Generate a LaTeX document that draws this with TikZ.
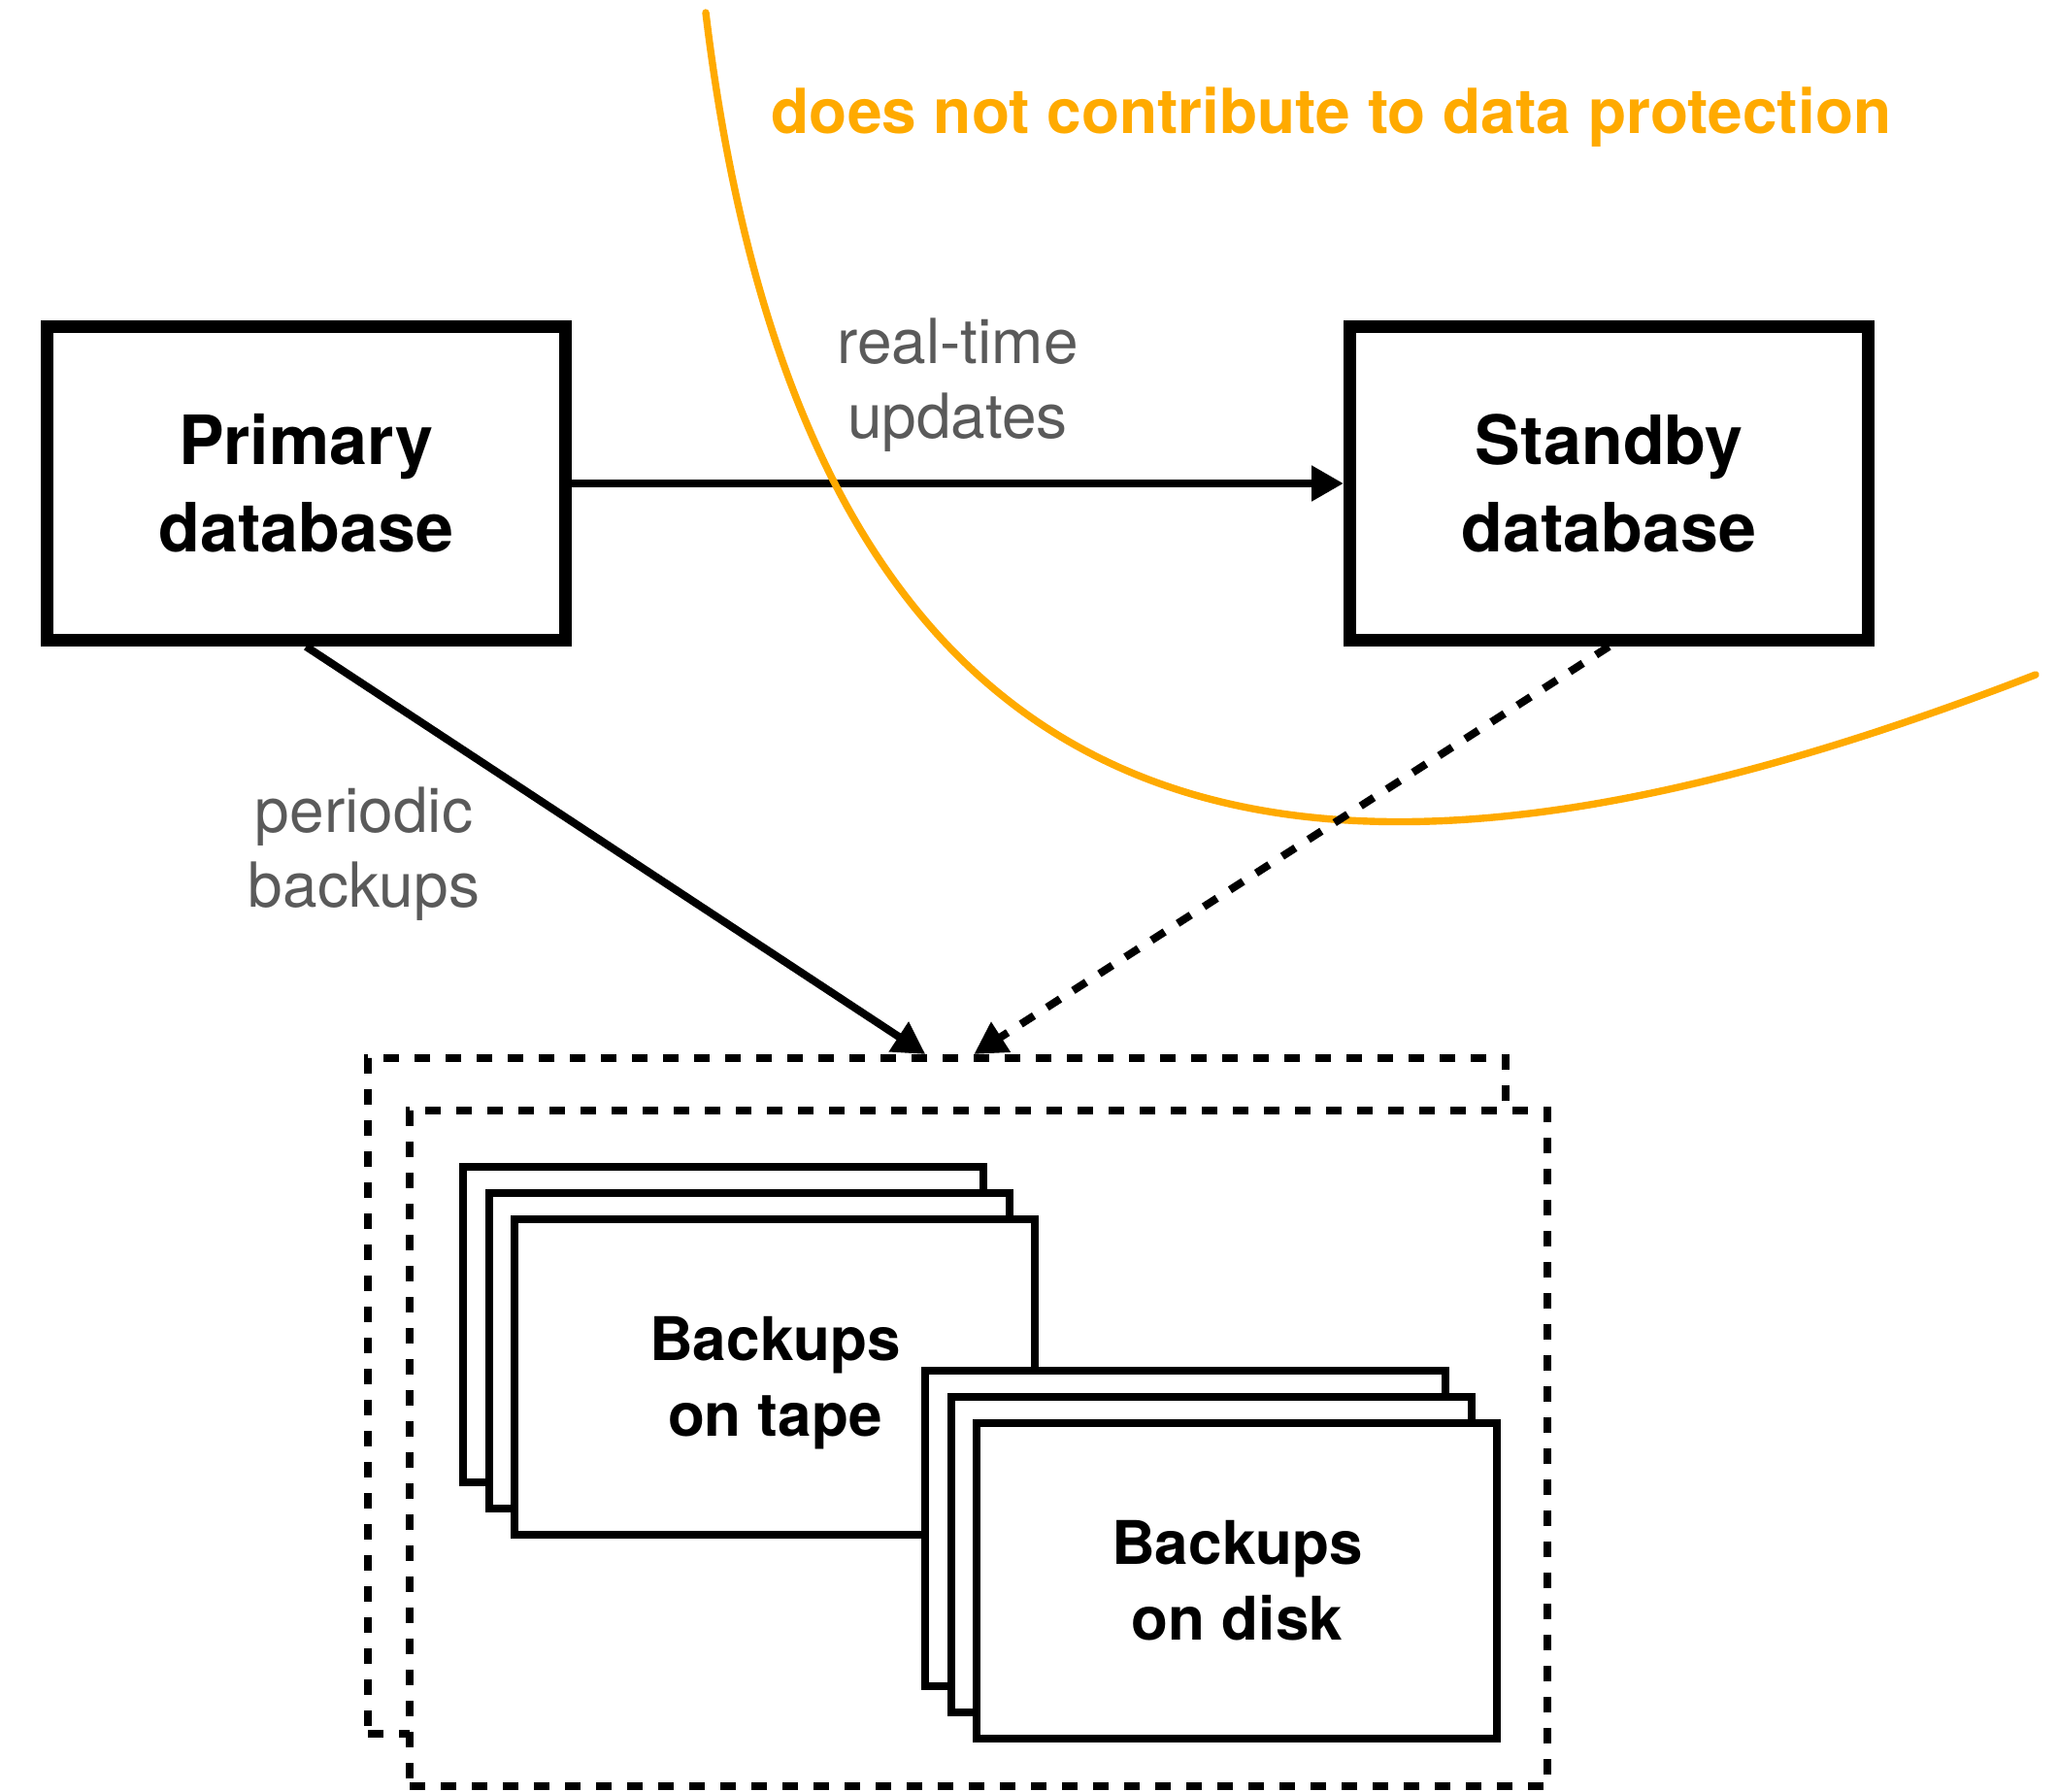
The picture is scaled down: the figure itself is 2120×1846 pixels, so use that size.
\documentclass[tikz,border=0pt]{standalone}
\usepackage{fontspec}
\setmainfont{TeX Gyre Heros}
\usetikzlibrary{arrows.meta,calc}
\definecolor{amber}{RGB}{255,170,0}
\definecolor{lblgray}{RGB}{90,90,90}
\begin{document}
\begin{tikzpicture}[x=0.5pt,y=-0.5pt,
  dbbox/.style={draw, line width=6.5pt, minimum width=267pt, minimum height=161.5pt, inner sep=0pt, align=center, font=\fontsize{35}{45}\selectfont\bfseries},
  sheet/.style={draw, fill=white, line width=4pt, minimum width=268pt, minimum height=162.5pt, inner sep=0pt},
  sheettext/.style={align=center, text depth=0pt, font=\fontsize{31}{39}\selectfont\bfseries},
  zone/.style={draw, fill=white, line width=4pt, dash pattern=on 8pt off 8pt, minimum width=586pt, minimum height=348pt, inner sep=0pt},
  lbl/.style={align=center, text=lblgray, font=\fontsize{32}{38.5}\selectfont},
  notetext/.style={text=amber, font=\fontsize{32}{38}\selectfont\bfseries, anchor=base},
  conn/.style={line width=4pt, -{Triangle[length=16.5pt,width=17.5pt]}},
  dashedconn/.style={conn, dash pattern=on 8pt off 8pt},
  boundary/.style={amber, line width=3.7pt, line cap=round},
]
\useasboundingbox (0,0) rectangle (2120,1846);

% database boxes
\node[dbbox] (prim) at (315.25,498) {Primary\\database};
\node[dbbox] (stby) at (1657.5,498) {Standby\\database};

% backup zones
\node[zone] (zoneback) at (965,1438) {};
\node[zone] (zonefront) at (1008,1492) {};

% tape stack
\node[sheet] (tape1) at (745,1364.5) {};
\node[sheet] (tape2) at (771.7,1391.2) {};
\node[sheet, sheettext] (tape3) at (798.4,1418) {Backups\\on tape};

% disk stack
\node[sheet] (disk1) at (1221,1574.5) {};
\node[sheet] (disk2) at (1247.7,1601.2) {};
\node[sheet, sheettext] (disk3) at (1274.4,1628) {Backups\\on disk};

% labels
\node[lbl] (rt) at (986.5,397) {real-time\\updates};
\node[lbl] (pb) at (375,880) {periodic\\backups};
\node[notetext] (note) at (1371.5,137.3) {does not contribute to data protection};

% connectors
\draw[conn] (prim.east) -- (stby.west);
\draw[boundary] (727,13) .. controls (840,950) and (1400,965) .. (2097,695);
\coordinate (tipA) at ($(zoneback.north)+(-11.7,0)$);
\coordinate (tipB) at ($(zoneback.north)+(38.3,0)$);
\draw[conn] (prim.south) -- (tipA);
\draw[dashedconn] (stby.south) -- (tipB);
\end{tikzpicture}
\end{document}
